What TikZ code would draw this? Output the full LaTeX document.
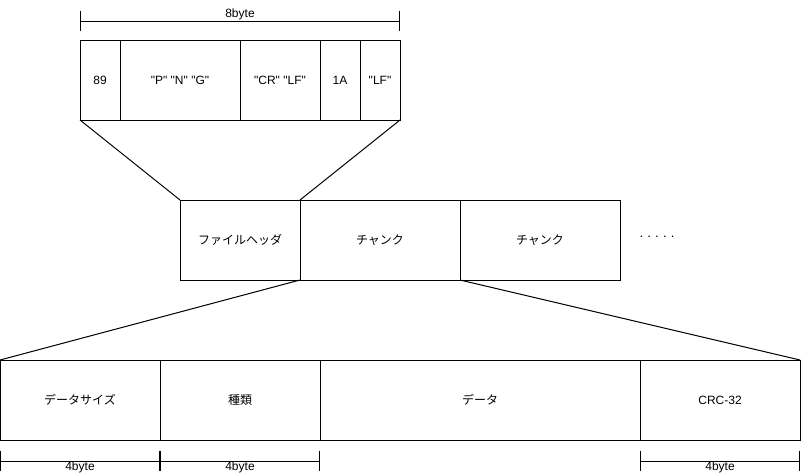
\documentclass[tikz,border=0pt]{standalone}
\usepackage{fontspec}
\setmainfont{Liberation Sans}[Ligatures=TeXOff]
\newfontfamily\jp{Noto Sans CJK JP}
\usetikzlibrary{arrows.meta,positioning}

\begin{document}
\begin{tikzpicture}[x=1pt, y=-1pt, line width=1pt,
    field/.style={draw, minimum height=80pt, inner sep=0pt, outer sep=0pt,
                  font=\fontsize{12}{14}\selectfont},
    dimline/.style={{Bar[width=20pt]}-{Bar[width=20pt]}},
    dimlbl/.style={font=\fontsize{12}{14}\selectfont, inner sep=0pt}]
\useasboundingbox (0,0) rectangle (802,475);

% PNG signature
\node[field, minimum width=40pt]  (h89)   at (100,80) {89};
\node[field, minimum width=120pt] (hpng)  at (180,80) {"P" "N" "G"};
\node[field, minimum width=80pt]  (hcrlf) at (280,80) {"CR" "LF"};
\node[field, minimum width=40pt]  (h1a)   at (340,80) {1A};
\node[field, minimum width=40pt]  (hlf)   at (380,80) {"LF"};
\coordinate (s8a) at (80,21);
\coordinate (s8b) at (400,21);
\draw[dimline] (s8a) -- (s8b);
\node[dimlbl] (s8lbl) at (240,14) {8byte};

% file layout
\node[field, minimum width=120pt] (fhdr)   at (240,240) {\jp ファイルヘッダ};
\node[field, minimum width=160pt] (chunk1) at (380,240) {\jp チャンク};
\node[field, minimum width=160pt] (chunk2) at (540,240) {\jp チャンク};
\node[font=\fontsize{13}{14}\selectfont, inner sep=0pt] (more) at (657,237) {.\hspace{4.2pt}.\hspace{4.2pt}.\hspace{4.2pt}.\hspace{4.2pt}.};
\draw (h89.south west) -- (fhdr.north west);
\draw (hlf.south east) -- (fhdr.north east);

% chunk layout
\node[field, minimum width=160pt] (csize) at (80,400)  {\jp データサイズ};
\node[field, minimum width=160pt] (ctype) at (240,400) {\jp 種類};
\node[field, minimum width=320pt] (cdata) at (480,400) {\jp データ};
\node[field, minimum width=160pt] (ccrc)  at (720,400) {CRC-32};
\draw (chunk1.south west) -- (csize.north west);
\draw (chunk1.south east) -- (ccrc.north east);

% sizes
\coordinate (s4a) at (0,461);
\coordinate (s4b) at (160,461);
\coordinate (s4c) at (320,461);
\coordinate (s4d) at (640,461);
\coordinate (s4e) at (800,461);
\draw[dimline] (s4a) -- (s4b);
\draw[dimline] (s4b) -- (s4c);
\draw[dimline] (s4d) -- (s4e);
\node[dimlbl] (s4lbl1) at (80,467)  {4byte};
\node[dimlbl] (s4lbl2) at (240,467) {4byte};
\node[dimlbl] (s4lbl3) at (720,467) {4byte};
\end{tikzpicture}
\end{document}
